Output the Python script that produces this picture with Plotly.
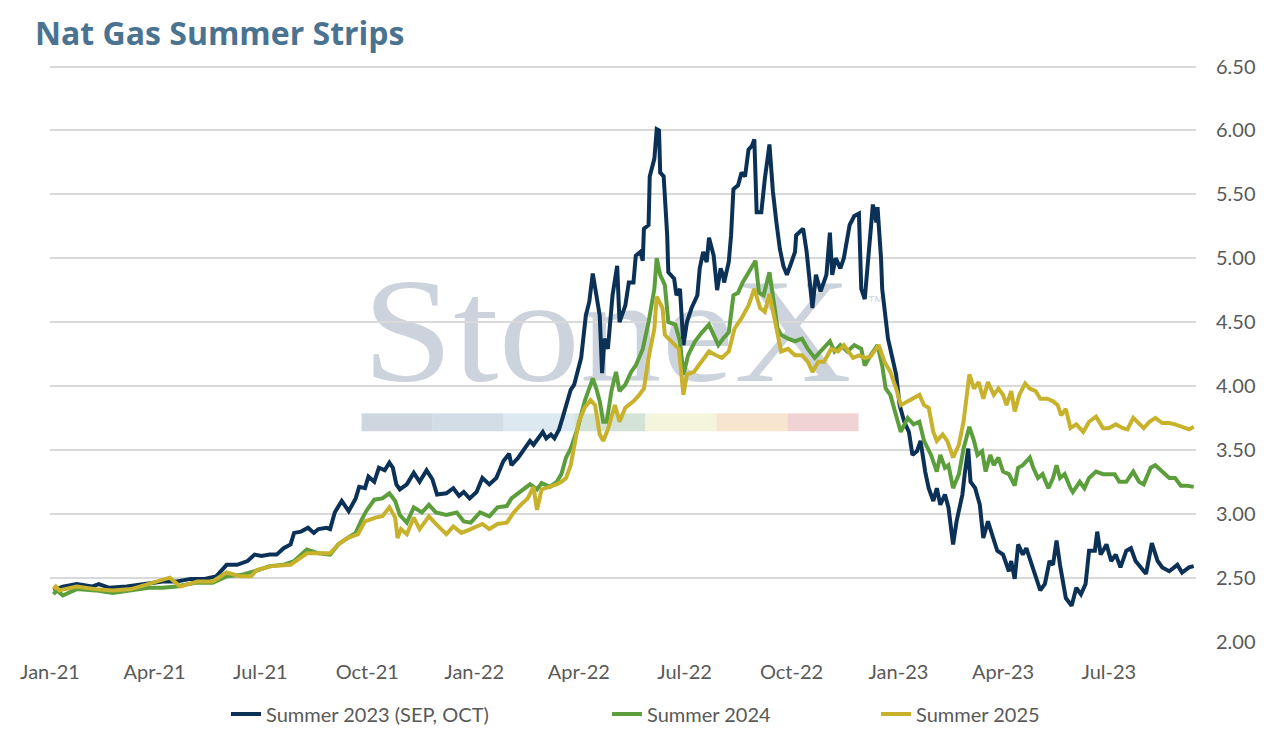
import base64
import plotly.graph_objects as go

# --- data ($/MMBtu strip prices) ---
navy_dates = [
    "2021-01-04", "2021-01-12", "2021-01-24", "2021-02-06", "2021-02-12", "2021-02-21", "2021-03-08", "2021-03-27",
    "2021-04-08", "2021-04-20", "2021-05-02", "2021-05-14", "2021-05-24", "2021-06-02", "2021-06-11", "2021-06-20",
    "2021-06-26", "2021-07-02", "2021-07-09", "2021-07-15", "2021-07-21", "2021-07-27", "2021-07-30", "2021-08-05",
    "2021-08-11", "2021-08-16", "2021-08-20", "2021-08-27", "2021-08-30", "2021-09-03", "2021-09-09", "2021-09-15",
    "2021-09-21", "2021-09-24", "2021-09-29", "2021-10-02", "2021-10-07", "2021-10-11", "2021-10-16", "2021-10-20",
    "2021-10-23", "2021-10-26", "2021-10-29", "2021-11-04", "2021-11-10", "2021-11-15", "2021-11-21", "2021-11-26",
    "2021-11-30", "2021-12-08", "2021-12-14", "2021-12-19", "2021-12-23", "2021-12-28", "2022-01-03", "2022-01-08",
    "2022-01-14", "2022-01-20", "2022-01-26", "2022-01-31", "2022-02-02", "2022-02-08", "2022-02-12", "2022-02-15",
    "2022-02-18", "2022-02-21", "2022-02-25", "2022-03-01", "2022-03-04", "2022-03-08", "2022-03-11", "2022-03-15",
    "2022-03-18", "2022-03-22", "2022-03-25", "2022-03-28", "2022-03-31", "2022-04-03", "2022-04-07", "2022-04-10",
    "2022-04-13", "2022-04-19", "2022-04-21", "2022-04-23", "2022-04-26", "2022-04-30", "2022-05-04", "2022-05-06",
    "2022-05-11", "2022-05-14", "2022-05-18", "2022-05-20", "2022-05-24", "2022-05-26", "2022-05-27", "2022-05-31",
    "2022-06-01", "2022-06-05", "2022-06-07", "2022-06-09", "2022-06-10", "2022-06-13", "2022-06-16", "2022-06-17",
    "2022-06-22", "2022-06-24", "2022-06-27", "2022-06-30", "2022-07-03", "2022-07-07", "2022-07-12", "2022-07-14",
    "2022-07-17", "2022-07-20", "2022-07-22", "2022-07-26", "2022-07-29", "2022-08-01", "2022-08-03", "2022-08-04",
    "2022-08-08", "2022-08-10", "2022-08-12", "2022-08-16", "2022-08-19", "2022-08-22", "2022-08-25", "2022-08-28",
    "2022-08-30", "2022-09-01", "2022-09-05", "2022-09-08", "2022-09-12", "2022-09-15", "2022-09-18", "2022-09-21",
    "2022-09-24", "2022-09-27", "2022-10-01", "2022-10-04", "2022-10-05", "2022-10-11", "2022-10-14", "2022-10-19",
    "2022-10-22", "2022-10-26", "2022-10-31", "2022-11-03", "2022-11-05", "2022-11-08", "2022-11-12", "2022-11-15",
    "2022-11-20", "2022-11-24", "2022-11-28", "2022-11-30", "2022-12-03", "2022-12-05", "2022-12-10", "2022-12-13",
    "2022-12-14", "2022-12-17", "2022-12-18", "2022-12-23", "2022-12-27", "2022-12-30", "2023-01-02", "2023-01-06",
    "2023-01-10", "2023-01-13", "2023-01-17", "2023-01-20", "2023-01-24", "2023-01-27", "2023-01-31", "2023-02-03",
    "2023-02-06", "2023-02-10", "2023-02-13", "2023-02-17", "2023-02-20", "2023-02-25", "2023-02-27", "2023-03-02",
    "2023-03-04", "2023-03-08", "2023-03-12", "2023-03-15", "2023-03-19", "2023-03-24", "2023-03-27", "2023-04-01",
    "2023-04-06", "2023-04-08", "2023-04-11", "2023-04-14", "2023-04-18", "2023-04-21", "2023-04-26", "2023-04-30",
    "2023-05-03", "2023-05-07", "2023-05-11", "2023-05-14", "2023-05-17", "2023-05-20", "2023-05-23", "2023-05-25",
    "2023-05-30", "2023-06-03", "2023-06-07", "2023-06-11", "2023-06-14", "2023-06-19", "2023-06-21", "2023-06-24",
    "2023-06-29", "2023-07-03", "2023-07-07", "2023-07-11", "2023-07-16", "2023-07-20", "2023-07-24", "2023-07-29",
    "2023-08-02", "2023-08-07", "2023-08-12", "2023-08-16", "2023-08-22", "2023-08-29", "2023-09-02", "2023-09-08",
    "2023-09-12",
]
navy_values = [
    2.40, 2.43, 2.45, 2.43, 2.45, 2.42, 2.43, 2.45,
    2.47, 2.47, 2.49, 2.49, 2.51, 2.60, 2.60, 2.63,
    2.68, 2.67, 2.68, 2.68, 2.73, 2.76, 2.85, 2.86,
    2.89, 2.85, 2.88, 2.89, 2.88, 3.01, 3.10, 3.02,
    3.12, 3.21, 3.20, 3.29, 3.25, 3.36, 3.34, 3.40,
    3.36, 3.23, 3.19, 3.23, 3.32, 3.25, 3.34, 3.27,
    3.15, 3.16, 3.20, 3.14, 3.17, 3.12, 3.17, 3.28,
    3.23, 3.28, 3.41, 3.47, 3.38, 3.44, 3.49, 3.54,
    3.57, 3.54, 3.59, 3.64, 3.59, 3.62, 3.59, 3.66,
    3.75, 3.88, 3.97, 4.01, 4.11, 4.22, 4.55, 4.66,
    4.88, 4.55, 4.10, 4.37, 4.29, 4.71, 4.94, 4.50,
    4.63, 4.81, 4.81, 5.02, 5.05, 4.98, 5.23, 5.26,
    5.64, 5.78, 6.01, 6.00, 5.67, 5.64, 5.18, 4.89,
    4.84, 4.71, 4.76, 4.32, 4.50, 4.61, 4.71, 4.92,
    5.05, 4.97, 5.16, 5.02, 4.75, 4.92, 4.87, 4.81,
    4.97, 5.18, 5.54, 5.57, 5.67, 5.64, 5.85, 5.88,
    5.93, 5.36, 5.36, 5.62, 5.89, 5.52, 5.28, 5.07,
    4.94, 4.87, 4.97, 5.05, 5.18, 5.23, 5.05, 4.61,
    4.87, 4.74, 4.87, 5.20, 4.87, 5.00, 4.92, 5.00,
    5.26, 5.33, 5.35, 4.76, 4.68, 4.92, 5.42, 5.28,
    5.40, 5.00, 4.76, 4.37, 4.19, 4.09, 3.85, 3.72,
    3.64, 3.46, 3.49, 3.57, 3.33, 3.20, 3.10, 3.20,
    3.07, 3.15, 3.05, 2.76, 2.94, 3.15, 3.31, 3.51,
    3.25, 3.20, 3.07, 2.81, 2.94, 2.81, 2.71, 2.68,
    2.55, 2.63, 2.49, 2.76, 2.68, 2.73, 2.60, 2.50,
    2.40, 2.45, 2.63, 2.60, 2.79, 2.60, 2.42, 2.34,
    2.28, 2.42, 2.37, 2.45, 2.71, 2.71, 2.86, 2.68,
    2.76, 2.63, 2.68, 2.58, 2.71, 2.73, 2.63, 2.58,
    2.53, 2.77, 2.63, 2.58, 2.55, 2.60, 2.54, 2.58,
    2.59,
]

green_dates = [
    "2021-01-04", "2021-01-07", "2021-01-12", "2021-01-24", "2021-02-09", "2021-02-24", "2021-03-12", "2021-03-27",
    "2021-04-08", "2021-04-20", "2021-05-06", "2021-05-21", "2021-06-02", "2021-06-14", "2021-06-26", "2021-07-09",
    "2021-07-21", "2021-07-30", "2021-08-10", "2021-08-20", "2021-08-30", "2021-09-06", "2021-09-14", "2021-09-21",
    "2021-09-26", "2021-09-30", "2021-10-07", "2021-10-14", "2021-10-20", "2021-10-25", "2021-10-29", "2021-11-04",
    "2021-11-10", "2021-11-17", "2021-11-23", "2021-11-29", "2021-12-08", "2021-12-17", "2021-12-23", "2021-12-29",
    "2022-01-06", "2022-01-14", "2022-01-21", "2022-01-29", "2022-02-02", "2022-02-09", "2022-02-18", "2022-02-24",
    "2022-02-28", "2022-03-07", "2022-03-13", "2022-03-17", "2022-03-21", "2022-03-25", "2022-03-31", "2022-04-06",
    "2022-04-13", "2022-04-16", "2022-04-19", "2022-04-22", "2022-04-25", "2022-04-29", "2022-05-03", "2022-05-06",
    "2022-05-11", "2022-05-16", "2022-05-20", "2022-05-26", "2022-05-31", "2022-06-05", "2022-06-07", "2022-06-10",
    "2022-06-14", "2022-06-17", "2022-06-23", "2022-06-27", "2022-06-30", "2022-07-04", "2022-07-10", "2022-07-16",
    "2022-07-22", "2022-07-26", "2022-07-30", "2022-08-03", "2022-08-08", "2022-08-12", "2022-08-16", "2022-08-20",
    "2022-08-25", "2022-08-28", "2022-08-31", "2022-09-03", "2022-09-07", "2022-09-12", "2022-09-15", "2022-09-19",
    "2022-09-22", "2022-09-28", "2022-10-04", "2022-10-10", "2022-10-15", "2022-10-21", "2022-10-26", "2022-11-03",
    "2022-11-07", "2022-11-12", "2022-11-18", "2022-11-24", "2022-11-30", "2022-12-03", "2022-12-08", "2022-12-14",
    "2022-12-18", "2022-12-21", "2022-12-25", "2022-12-30", "2023-01-03", "2023-01-09", "2023-01-14", "2023-01-19",
    "2023-01-23", "2023-01-29", "2023-02-03", "2023-02-06", "2023-02-10", "2023-02-13", "2023-02-17", "2023-02-22",
    "2023-02-26", "2023-03-03", "2023-03-07", "2023-03-10", "2023-03-14", "2023-03-17", "2023-03-21", "2023-03-24",
    "2023-03-28", "2023-04-01", "2023-04-06", "2023-04-11", "2023-04-14", "2023-04-18", "2023-04-24", "2023-04-27",
    "2023-05-01", "2023-05-05", "2023-05-10", "2023-05-14", "2023-05-17", "2023-05-20", "2023-05-24", "2023-05-29",
    "2023-05-31", "2023-06-06", "2023-06-10", "2023-06-14", "2023-06-20", "2023-06-26", "2023-06-30", "2023-07-06",
    "2023-07-10", "2023-07-16", "2023-07-22", "2023-07-27", "2023-07-31", "2023-08-06", "2023-08-10", "2023-08-16",
    "2023-08-22", "2023-08-27", "2023-09-01", "2023-09-06", "2023-09-12",
]
green_values = [
    2.37, 2.40, 2.36, 2.41, 2.40, 2.38, 2.40, 2.42,
    2.42, 2.43, 2.46, 2.46, 2.51, 2.52, 2.55, 2.59,
    2.60, 2.63, 2.72, 2.69, 2.68, 2.76, 2.81, 2.85,
    2.95, 3.02, 3.11, 3.12, 3.16, 3.10, 2.99, 2.93,
    3.05, 3.01, 3.07, 3.01, 2.99, 3.01, 2.94, 2.93,
    3.01, 2.98, 3.05, 3.06, 3.12, 3.17, 3.23, 3.19,
    3.24, 3.21, 3.25, 3.31, 3.44, 3.51, 3.67, 3.88,
    4.06, 3.98, 3.88, 3.72, 3.72, 3.96, 4.11, 3.96,
    4.01, 4.11, 4.16, 4.29, 4.50, 4.76, 5.00, 4.87,
    4.79, 4.50, 4.48, 4.35, 4.09, 4.24, 4.35, 4.42,
    4.48, 4.40, 4.32, 4.37, 4.42, 4.71, 4.73, 4.81,
    4.89, 4.94, 4.98, 4.73, 4.71, 4.89, 4.68, 4.45,
    4.40, 4.37, 4.35, 4.37, 4.29, 4.22, 4.27, 4.35,
    4.27, 4.32, 4.27, 4.32, 4.29, 4.16, 4.24, 4.32,
    4.16, 3.98, 3.93, 3.77, 3.64, 3.75, 3.70, 3.72,
    3.57, 3.46, 3.33, 3.46, 3.36, 3.38, 3.20, 3.31,
    3.51, 3.68, 3.57, 3.46, 3.49, 3.33, 3.46, 3.38,
    3.44, 3.33, 3.31, 3.22, 3.36, 3.38, 3.44, 3.36,
    3.28, 3.31, 3.20, 3.28, 3.38, 3.28, 3.31, 3.20,
    3.17, 3.25, 3.20, 3.28, 3.33, 3.31, 3.31, 3.31,
    3.25, 3.25, 3.33, 3.25, 3.23, 3.36, 3.38, 3.33,
    3.28, 3.28, 3.22, 3.22, 3.21,
]

gold_dates = [
    "2021-01-04", "2021-01-06", "2021-01-09", "2021-01-24", "2021-02-09", "2021-02-24", "2021-03-12", "2021-03-29",
    "2021-04-08", "2021-04-14", "2021-04-23", "2021-05-08", "2021-05-21", "2021-06-02", "2021-06-14", "2021-06-23",
    "2021-06-28", "2021-07-11", "2021-07-27", "2021-08-10", "2021-08-20", "2021-08-30", "2021-09-06", "2021-09-14",
    "2021-09-23", "2021-09-29", "2021-10-08", "2021-10-14", "2021-10-20", "2021-10-25", "2021-10-27", "2021-10-30",
    "2021-11-04", "2021-11-10", "2021-11-15", "2021-11-23", "2021-11-29", "2021-12-08", "2021-12-14", "2021-12-21",
    "2021-12-29", "2022-01-08", "2022-01-14", "2022-01-21", "2022-01-29", "2022-02-04", "2022-02-10", "2022-02-16",
    "2022-02-21", "2022-02-24", "2022-02-28", "2022-03-07", "2022-03-13", "2022-03-17", "2022-03-21", "2022-03-25",
    "2022-03-28", "2022-04-01", "2022-04-06", "2022-04-11", "2022-04-15", "2022-04-19", "2022-04-22", "2022-04-26",
    "2022-05-02", "2022-05-06", "2022-05-11", "2022-05-18", "2022-05-23", "2022-05-27", "2022-05-31", "2022-06-05",
    "2022-06-07", "2022-06-12", "2022-06-14", "2022-06-20", "2022-06-26", "2022-06-30", "2022-07-03", "2022-07-09",
    "2022-07-16", "2022-07-22", "2022-07-28", "2022-08-02", "2022-08-08", "2022-08-13", "2022-08-19", "2022-08-25",
    "2022-08-30", "2022-09-04", "2022-09-08", "2022-09-12", "2022-09-17", "2022-09-22", "2022-09-28", "2022-10-04",
    "2022-10-10", "2022-10-15", "2022-10-19", "2022-10-24", "2022-10-29", "2022-11-04", "2022-11-10", "2022-11-15",
    "2022-11-23", "2022-11-28", "2022-12-03", "2022-12-08", "2022-12-15", "2022-12-20", "2022-12-25", "2022-12-30",
    "2023-01-03", "2023-01-09", "2023-01-14", "2023-01-19", "2023-01-23", "2023-01-27", "2023-01-31", "2023-02-03",
    "2023-02-08", "2023-02-12", "2023-02-17", "2023-02-22", "2023-02-26", "2023-03-03", "2023-03-07", "2023-03-11",
    "2023-03-15", "2023-03-19", "2023-03-24", "2023-03-28", "2023-04-01", "2023-04-04", "2023-04-08", "2023-04-11",
    "2023-04-15", "2023-04-20", "2023-04-24", "2023-04-29", "2023-05-03", "2023-05-09", "2023-05-14", "2023-05-18",
    "2023-05-21", "2023-05-25", "2023-05-29", "2023-06-03", "2023-06-09", "2023-06-14", "2023-06-20", "2023-06-26",
    "2023-07-01", "2023-07-07", "2023-07-13", "2023-07-17", "2023-07-22", "2023-07-27", "2023-07-31", "2023-08-05",
    "2023-08-10", "2023-08-16", "2023-08-22", "2023-08-27", "2023-09-02", "2023-09-08", "2023-09-12",
]
gold_values = [
    2.41, 2.43, 2.40, 2.43, 2.41, 2.40, 2.41, 2.46,
    2.49, 2.50, 2.43, 2.47, 2.47, 2.54, 2.51, 2.51,
    2.56, 2.59, 2.60, 2.69, 2.69, 2.69, 2.76, 2.81,
    2.84, 2.94, 2.97, 2.98, 3.05, 2.97, 2.81, 2.88,
    2.84, 2.97, 2.88, 2.98, 2.92, 2.84, 2.90, 2.85,
    2.88, 2.92, 2.88, 2.92, 2.93, 3.01, 3.07, 3.12,
    3.21, 3.03, 3.19, 3.21, 3.23, 3.25, 3.28, 3.38,
    3.51, 3.72, 3.83, 3.89, 3.85, 3.62, 3.57, 3.66,
    3.85, 3.72, 3.83, 3.88, 3.93, 3.98, 4.22, 4.45,
    4.70, 4.61, 4.40, 4.35, 4.29, 3.93, 4.09, 4.11,
    4.19, 4.27, 4.24, 4.22, 4.27, 4.45, 4.53, 4.63,
    4.76, 4.61, 4.58, 4.72, 4.50, 4.27, 4.29, 4.24,
    4.24, 4.19, 4.11, 4.19, 4.19, 4.29, 4.27, 4.32,
    4.22, 4.24, 4.22, 4.23, 4.32, 4.19, 4.11, 3.98,
    3.85, 3.88, 3.90, 3.93, 3.85, 3.83, 3.64, 3.57,
    3.62, 3.57, 3.44, 3.54, 3.72, 4.09, 3.98, 4.03,
    3.90, 4.03, 3.93, 3.98, 3.93, 3.85, 3.96, 3.80,
    3.93, 4.02, 3.98, 3.96, 3.90, 3.90, 3.88, 3.85,
    3.77, 3.82, 3.67, 3.70, 3.64, 3.72, 3.76, 3.67,
    3.67, 3.70, 3.67, 3.66, 3.75, 3.70, 3.67, 3.72,
    3.75, 3.71, 3.71, 3.70, 3.68, 3.66, 3.68,
]

series_names = ["Summer 2023 (SEP, OCT)", "Summer 2024", "Summer 2025"]
series_colors = ["#0B3157", "#5B9E3B", "#C8B22B"]

GRID = "#D9D9D9"
TEXT = "#595959"
FONT = "Lato, 'Open Sans', sans-serif"

# watermark (logo) as an inline svg, drawn under the grid
wm_colors = ["#CFD6DF", "#D3DDE7", "#DDE9F1", "#D3E3D8", "#F5F5DD", "#F7E5CF", "#F0D3D5"]
rects = "".join(
    f'<rect x="{7 + i * 71.4:.1f}" y="145" width="71.6" height="18" fill="{c}"/>'
    for i, c in enumerate(wm_colors)
)
svg = (
    '<svg xmlns="http://www.w3.org/2000/svg" width="530" height="170" viewBox="0 0 530 170">'
    '<text x="8" y="113" font-family="Liberation Serif, DejaVu Serif, serif" font-size="148" '
    'fill="#CCD3DC" textLength="492" lengthAdjust="spacingAndGlyphs">StoneX</text>'
    '<text x="517" y="33" font-family="Liberation Sans, sans-serif" font-size="10" fill="#CCD3DC">TM</text>'
    + rects + "</svg>"
)
wm_src = "data:image/svg+xml;base64," + base64.b64encode(svg.encode("utf-8")).decode("ascii")

fig = go.Figure()
all_series = [(navy_dates, navy_values), (green_dates, green_values), (gold_dates, gold_values)]
legend_ids = ["legend", "legend2", "legend3"]
for (d, v), name, color, lg in zip(all_series, series_names, series_colors, legend_ids):
    fig.add_trace(go.Scatter(
        x=d, y=v, name=name, mode="lines",
        line=dict(color=color, width=4),
        legend=lg,
    ))

# the page adds an 8px body margin, so the figure is 8px smaller than the window
W, H = 1263, 726
# y range runs a touch past 6.50 so its gridline is drawn; top margin trimmed to match
L, R, T, B = 35.5, 74.5, 56.4, 90
Y_RANGE = [2, 6.52]

def leg(xpx):
    return dict(
        orientation="h", x=xpx / W, xref="container", xanchor="left",
        y=1 - 706 / H, yref="container", yanchor="middle",
        font=dict(family=FONT, size=20, color=TEXT), bgcolor="rgba(0,0,0,0)",
    )

plot_h = H - T - B
fig.update_layout(
    width=W, height=H,
    margin=dict(l=L, r=R, t=T, b=B),
    paper_bgcolor="white", plot_bgcolor="rgba(0,0,0,0)",
    font=dict(family=FONT, size=20, color=TEXT),
    title=dict(
        text="Nat Gas Summer Strips",
        x=27 / W, xref="container", xanchor="left",
        y=1 - 26 / H, yref="container", yanchor="middle",
        font=dict(family="'Open Sans', Lato, sans-serif", size=32, color="#497390", weight="bold"),
    ),
    showlegend=True,
    legend=leg(218), legend2=leg(599), legend3=leg(868),
    xaxis=dict(
        type="date", range=["2021-01-01", "2023-09-14"],
        tick0="2021-01-01", dtick="M3", tickformat="%b-%y",
        showgrid=False, zeroline=False, showline=False,
        ticks="outside", ticklen=12, tickcolor="rgba(0,0,0,0)",
        tickfont=dict(family=FONT, size=20, color=TEXT),
    ),
    yaxis=dict(
        side="right", range=Y_RANGE, dtick=0.5, tick0=2, tickformat=".2f",
        showgrid=True, gridcolor=GRID, gridwidth=1.5,
        zeroline=False, showline=False,
        ticks="outside", ticklen=15, tickcolor="rgba(0,0,0,0)",
        tickfont=dict(family=FONT, size=20, color=TEXT),
    ),
    images=[dict(
        source=wm_src, xref="paper", yref="paper",
        x=(350 - 43.5) / 1153, y=(plot_h - (270 - 8 - T)) / plot_h,
        sizex=530 / 1153, sizey=170 / plot_h,
        xanchor="left", yanchor="top", sizing="stretch", layer="below",
    )],
)

fig.write_html("out.html")
